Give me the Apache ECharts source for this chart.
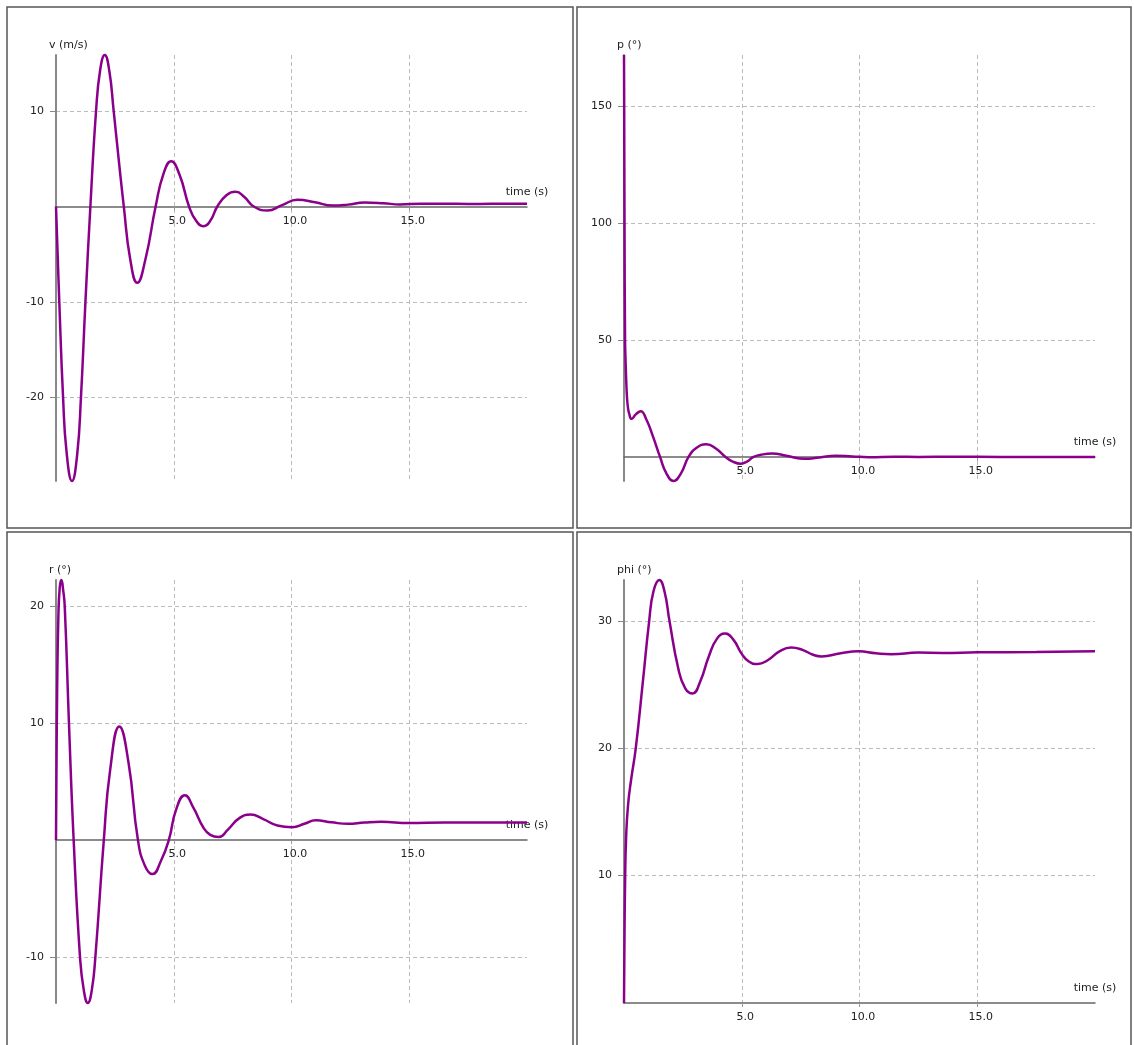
<!DOCTYPE html>
<html><head><meta charset="utf-8">
<script src="https://cdn.jsdelivr.net/npm/echarts@6/dist/echarts.min.js"></script>
<style>html,body{margin:0;padding:0;background:#fff}#c{width:1134px;height:1045px}</style>
</head><body><div id="c"></div>
<script>
// ---- data ----
const vTime   = [0, 0.07, 0.14, 0.3, 0.45, 0.68, 0.9, 1.06, 1.25, 1.46, 1.7, 1.88, 2.07, 2.26, 2.45, 2.66, 2.88, 3.15, 3.45, 3.8, 4.23, 4.56, 4.89, 5.25, 5.65, 5.95, 6.26, 6.55, 6.85, 7.25, 7.63, 8.0, 8.4, 8.98, 9.6, 10.25, 11.0, 11.75, 12.4, 13.1, 13.9, 14.6, 15.5, 16.5, 17.5, 18.5, 20];
const vValues = [0, -5, -10, -20, -25.8, -28.8, -26, -20, -10, 0, 10, 14.4, 15.9, 14.3, 10, 5, 0, -5.5, -8.0, -5.5, 0, 3.4, 4.74, 3.3, 0, -1.5, -2.07, -1.5, 0, 1.2, 1.55, 1.0, 0, -0.42, 0.15, 0.7, 0.45, 0.1, 0.2, 0.42, 0.35, 0.22, 0.3, 0.3, 0.27, 0.28, 0.28];

const pTime   = [0, 0.008, 0.022, 0.045, 0.07, 0.09, 0.13, 0.17, 0.22, 0.32, 0.5, 0.71, 0.95, 1.24, 1.53, 1.8, 2.1, 2.42, 2.74, 3.1, 3.5, 3.9, 4.31, 4.62, 4.96, 5.22, 5.5, 5.9, 6.29, 6.9, 7.67, 8.3, 8.98, 9.7, 10.4, 11.5, 12.5, 14, 16, 18, 20];
const pValues = [172, 150, 100, 50, 40, 34, 25, 21, 18.5, 16.3, 18.2, 19.6, 16, 8.5, 0, -7, -10.3, -7, 0, 4, 5.4, 3.6, 0, -2, -2.9, -2, 0, 1.1, 1.43, 0.5, -0.8, -0.2, 0.55, 0.2, -0.1, 0.1, 0, 0.05, 0, 0, 0];

const rTime   = [0, 0.02, 0.05, 0.1, 0.16, 0.23, 0.3, 0.37, 0.55, 0.75, 1.02, 1.18, 1.35, 1.52, 1.67, 2.03, 2.3, 2.69, 3.08, 3.48, 3.78, 4.1, 4.45, 4.79, 5.1, 5.47, 5.85, 6.25, 6.55, 6.91, 7.3, 7.8, 8.26, 8.8, 9.4, 10.03, 10.55, 11.03, 11.7, 12.4, 13.1, 13.8, 15, 16.5, 18, 20];
const rValues = [0, 6, 13, 19, 21.6, 22.2, 21.4, 20, 10, 0, -10, -12.8, -13.9, -12.8, -10, 0, 6.0, 9.7, 6.6, 0, -2.2, -2.9, -1.8, 0, 2.6, 3.83, 2.7, 1.1, 0.45, 0.26, 0.9, 1.9, 2.18, 1.8, 1.25, 1.1, 1.4, 1.7, 1.52, 1.39, 1.5, 1.56, 1.46, 1.5, 1.5, 1.5];

const phiTime   = [0, 0.02, 0.05, 0.09, 0.17, 0.3, 0.5, 0.8, 1.07, 1.25, 1.5, 1.72, 1.93, 2.3, 2.6, 2.91, 3.25, 3.6, 3.95, 4.29, 4.65, 5.0, 5.3, 5.67, 6.1, 6.6, 7.1, 7.6, 8.0, 8.39, 9.2, 9.96, 10.7, 11.35, 12.5, 13.5, 15, 17.5, 20];
const phiValues = [0, 5, 10, 13, 15.5, 17.5, 20, 25.2, 30, 32.3, 33.2, 32.3, 30, 26.3, 24.7, 24.3, 25.3, 27.2, 28.6, 29.0, 28.5, 27.4, 26.8, 26.6, 26.9, 27.6, 27.9, 27.7, 27.35, 27.2, 27.45, 27.6, 27.45, 27.38, 27.5, 27.48, 27.52, 27.55, 27.6];

const xTicks   = [5, 10, 15];
const vTicks   = [-20, -10, 10];
const pTicks   = [50, 100, 150];
const rTicks   = [-10, 10, 20];
const phiTicks = [10, 20, 30];
const xName = 'time (s)';

// ---- styling / layout ----
const FONT = 'DejaVu Sans';
const FS = 11;
const TXT = '#222';
const LINE = '#8b008b';
const ctx = document.createElement('canvas').getContext('2d');
ctx.font = FS + 'px "' + FONT + '"';
const textW = s => ctx.measureText(s).width;

const panels = [
  {name: 'v (m/s)', t: vTime, y: vValues, ticks: vTicks, grid: {left: 56, top: 55, width: 471, height: 426}},
  {name: 'p (°)', t: pTime, y: pValues, ticks: pTicks, grid: {left: 624, top: 55, width: 471, height: 426}},
  {name: 'r (°)', t: rTime, y: rValues, ticks: rTicks, grid: {left: 56, top: 580, width: 471, height: 423}},
  {name: 'phi (°)', t: phiTime, y: phiValues, ticks: phiTicks, grid: {left: 624, top: 580, width: 471, height: 423}}
];

const split = {show: true, lineStyle: {type: [4, 3], color: '#bcbcbc', width: 1}};
const grids = [], xAxes = [], yAxes = [], series = [];
panels.forEach((p, i) => {
  grids.push(Object.assign({containLabel: false}, p.grid));
  xAxes.push({
    type: 'value', gridIndex: i, min: 0, max: 20, position: 'bottom', offset: 0,
    axisLine: {onZero: false, lineStyle: {color: '#666', width: 1.5}},
    axisTick: {show: true, customValues: xTicks, length: 4, lineStyle: {color: '#999'}},
    axisLabel: {customValues: xTicks, formatter: v => v.toFixed(1), margin: 9, color: TXT,
      fontFamily: FONT, fontSize: FS, padding: [0, 0, 0, 7]},
    splitLine: split,
    name: xName, nameLocation: 'end', nameGap: 0,
    nameTextStyle: {align: 'center', verticalAlign: 'bottom', padding: [0, 0, 9, 0],
      color: TXT, fontFamily: FONT, fontSize: FS}
  });
  const w = textW(p.name);
  yAxes.push({
    type: 'value', gridIndex: i, min: 'dataMin', max: 'dataMax',
    axisLine: {show: true, onZero: false, lineStyle: {color: '#888', width: 2}},
    axisTick: {show: true, customValues: p.ticks, length: 6, lineStyle: {color: '#888'}},
    axisLabel: {customValues: p.ticks, margin: 12, color: TXT, fontFamily: FONT, fontSize: FS},
    splitLine: split,
    name: p.name, nameLocation: 'end', nameGap: 10,
    nameTextStyle: {align: 'center', verticalAlign: 'middle', padding: [0, 0, 0, Math.max(0, w - 14)],
      color: TXT, fontFamily: FONT, fontSize: FS}
  });
  series.push({
    type: 'line', xAxisIndex: i, yAxisIndex: i,
    data: p.t.map((t, k) => [t, p.y[k]]),
    smooth: 0.5, showSymbol: false, clip: false, silent: true,
    lineStyle: {color: LINE, width: 2.5}
  });
});

const frame = (x, y, w, h) => ({type: 'rect', silent: true, z: -10,
  shape: {x: x, y: y, width: w, height: h}, style: {fill: null, stroke: '#555', lineWidth: 1.5}});

const chart = echarts.init(document.getElementById('c'), null, {renderer: 'canvas'});
chart.setOption({
  animation: false,
  backgroundColor: '#fff',
  grid: grids, xAxis: xAxes, yAxis: yAxes, series: series,
  graphic: [frame(7, 7, 566, 521), frame(577, 7, 554, 521), frame(7, 532, 566, 520), frame(577, 532, 554, 520)]
});

// place each time axis on the value-zero line of its panel (derived from the y scale)
const offsets = panels.map((p, i) => {
  const zeroY = chart.convertToPixel({xAxisIndex: i, yAxisIndex: i}, [0, 0])[1];
  const bottomY = p.grid.top + p.grid.height;
  return {offset: -(bottomY - zeroY)};
});
chart.setOption({xAxis: offsets});
</script></body></html>
